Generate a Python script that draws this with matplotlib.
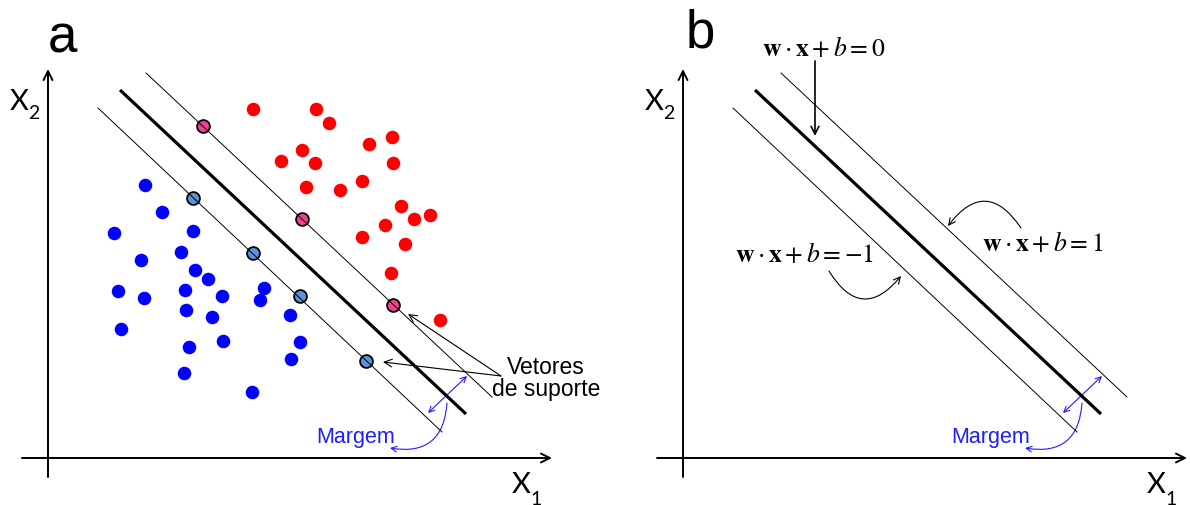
import matplotlib
matplotlib.use('Agg')
import matplotlib.pyplot as plt

plt.rcParams['mathtext.fontset'] = 'stix'

W, H = 1190, 506
PANEL_W = 635          # panel b is panel a shifted by this many px

# sample points (panel pixel coordinates, y downwards)
RED_X = [253, 316, 329, 392, 369, 302, 281, 315, 393, 362, 306, 340, 401, 385,
         414, 430, 362, 405, 391, 440]
RED_Y = [110, 110, 124, 138, 145, 151, 162, 164, 164, 182, 188, 191, 207, 226,
         220, 216, 238, 245, 274, 321]
BLUE_X = [145, 162, 114, 193, 181, 141, 195, 208, 118, 144, 185, 222, 264, 260,
          186, 212, 290, 121, 223, 189, 300, 291, 184, 252]
BLUE_Y = [186, 213, 234, 232, 253, 261, 271, 280, 292, 299, 291, 297, 289, 301,
          311, 318, 316, 330, 342, 348, 343, 360, 374, 393]

# support vectors on the two margin lines
SV_POS_X = [203, 302, 393]
SV_POS_Y = [127, 220, 306]
SV_NEG_X = [193, 253, 300, 366]
SV_NEG_Y = [199, 254, 297, 362]

# hyperplane and margins: (x0, x1), (y0, y1)
MARGIN_POS = ([146, 492], [74, 398])
BOUNDARY = ([120, 466], [91, 415])
MARGIN_NEG = ([98, 442], [109, 433])

RED, BLUE = '#FF0000', '#0000FF'
PINK, STEEL = '#F0428F', '#5B93D6'
MBLUE = '#1E1EFF'
SANS = 'Liberation Sans'


def arrow(ax, start, end, style='->', color='black', lw=1.0, ms=12, rad=0.0):
    ax.annotate('', xy=end, xytext=start,
                arrowprops=dict(arrowstyle=style, color=color, lw=lw,
                                mutation_scale=ms, shrinkA=0, shrinkB=0,
                                connectionstyle=f'arc3,rad={rad}'))


def draw_frame(ax, letter, letter_xy):
    ax.set_xlim(0, ax.get_position().width * W)
    ax.set_ylim(H, 0)
    ax.axis('off')
    # coordinate axes
    arrow(ax, (48, 478), (48, 70), lw=1.4, ms=16)
    arrow(ax, (22, 459), (552, 459), lw=1.4, ms=16)
    ax.text(10, 110, 'X', family='Lato', fontsize=21, va='baseline')
    ax.text(28, 119, '2', family='Lato', fontsize=14, va='baseline')
    ax.text(512, 493, 'X', family='Lato', fontsize=21, va='baseline')
    ax.text(530, 505, '1', family='Lato', fontsize=14, va='baseline')
    ax.text(*letter_xy, letter, family=SANS, fontsize=38, ha='center',
            va='baseline')
    # separating hyperplane with its margins
    ax.plot(*MARGIN_POS, color='black', lw=0.7, zorder=4)
    ax.plot(*MARGIN_NEG, color='black', lw=0.7, zorder=4)
    ax.plot(*BOUNDARY, color='black', lw=2.3, zorder=4,
            solid_capstyle='butt')
    # margin width
    arrow(ax, (428, 414), (467, 377), style='<->', color=MBLUE, lw=0.8, ms=10)
    arrow(ax, (447, 404), (390, 449), color=MBLUE, lw=0.8, ms=10, rad=-0.55)
    ax.text(356, 443, 'Margem', family=SANS, fontsize=15.5, color=MBLUE,
            ha='center', va='baseline')


fig = plt.figure(figsize=(W / 100, H / 100), dpi=100)
ax_a = fig.add_axes([0, 0, PANEL_W / W, 1])
ax_b = fig.add_axes([PANEL_W / W, 0, 1 - PANEL_W / W, 1])

# panel a: data and support vectors
draw_frame(ax_a, 'a', (62, 52))
ax_a.scatter(RED_X, RED_Y, s=95, color=RED, lw=0, zorder=2)
ax_a.scatter(BLUE_X, BLUE_Y, s=95, color=BLUE, lw=0, zorder=2)
ax_a.scatter(SV_POS_X, SV_POS_Y, s=85, color=PINK, edgecolor='black',
             lw=1.3, zorder=3)
ax_a.scatter(SV_NEG_X, SV_NEG_Y, s=85, color=STEEL, edgecolor='black',
             lw=1.3, zorder=3)
arrow(ax_a, (501, 377), (408, 315), lw=0.8, ms=14)
arrow(ax_a, (501, 377), (383, 363), lw=0.8, ms=14)
ax_a.text(546, 374, 'Vetores', family=SANS, fontsize=16.5, ha='center',
          va='baseline')
ax_a.text(546, 396, 'de suporte', family=SANS, fontsize=16.5, ha='center',
          va='baseline')

# panel b: hyperplane equations
draw_frame(ax_b, 'b', (65, 47))
eq = r'$\mathbf{w}\cdot\mathbf{x}+b={%s}$'
ax_b.text(189, 56, eq % '0', fontsize=18.5, ha='center', va='baseline')
ax_b.text(408, 251, eq % '1', fontsize=18.5, ha='center', va='baseline')
ax_b.text(170, 262, eq % '-1', fontsize=18.5, ha='center', va='baseline')
arrow(ax_b, (180, 62), (180, 137), lw=1.2, ms=14)
arrow(ax_b, (386, 229), (313, 227), lw=0.8, ms=12, rad=0.7)
arrow(ax_b, (194, 272), (266, 277), lw=0.8, ms=12, rad=0.7)

fig.savefig('out.png', dpi=100)
